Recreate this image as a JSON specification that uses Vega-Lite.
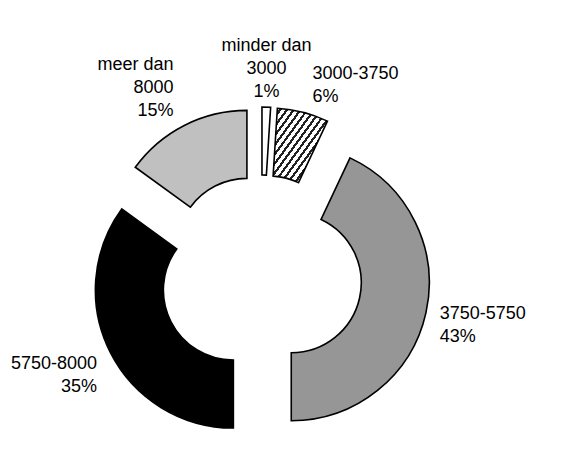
{
  "$schema": "https://vega.github.io/schema/vega-lite/v6.json",
  "autosize": "none",
  "width": 522,
  "height": 376,
  "padding": {"left": 0, "top": 88, "right": 61, "bottom": 0},
  "background": "white",
  "config": {"view": {"stroke": null}, "font": "Liberation Sans"},
  "data": {
    "values": [
      {"range": "minder dan 3000", "label": "minder dan\n3000\n1%", "pct": 1, "order": 1},
      {"range": "3000-3750", "label": "3000-3750\n6%", "pct": 6, "order": 2},
      {"range": "3750-5750", "label": "3750-5750\n43%", "pct": 43, "order": 3},
      {"range": "5750-8000", "label": "5750-8000\n35%", "pct": 35, "order": 4},
      {"range": "meer dan 8000", "label": "meer dan\n8000\n15%", "pct": 15, "order": 5}
    ]
  },
  "encoding": {
    "theta": {"field": "pct", "type": "quantitative", "stack": true},
    "order": {"field": "order", "type": "quantitative"}
  },
  "layer": [
    {
      "mark": {
        "type": "arc",
        "radius": 138,
        "radius2": 70,
        "stroke": "black",
        "strokeWidth": 1.6,
        "x": {"expr": "width/2 + 31*sin(scale('theta', (datum.pct_start + datum.pct_end)/2))"},
        "y": {"expr": "height/2 - 31*cos(scale('theta', (datum.pct_start + datum.pct_end)/2))"}
      },
      "encoding": {
        "fill": {
          "field": "range",
          "type": "nominal",
          "legend": null,
          "scale": {
            "domain": ["minder dan 3000", "3000-3750", "3750-5750", "5750-8000", "meer dan 8000"],
            "range": ["#ffffff", "#ffffff", "#969696", "#000000", "#c0c0c0"]
          },
          "condition": {
            "test": "datum.range === '3000-3750'",
            "value": {
              "gradient": "linear",
              "x1": 0, "y1": 0, "x2": 1, "y2": 1,
              "stops": [
                {"offset": 0, "color": "#222222"}, {"offset": 0.025, "color": "#222222"}, {"offset": 0.025, "color": "#ffffff"}, {"offset": 0.0625, "color": "#ffffff"},
                {"offset": 0.0625, "color": "#222222"}, {"offset": 0.0875, "color": "#222222"}, {"offset": 0.0875, "color": "#ffffff"}, {"offset": 0.125, "color": "#ffffff"},
                {"offset": 0.125, "color": "#222222"}, {"offset": 0.15, "color": "#222222"}, {"offset": 0.15, "color": "#ffffff"}, {"offset": 0.1875, "color": "#ffffff"},
                {"offset": 0.1875, "color": "#222222"}, {"offset": 0.2125, "color": "#222222"}, {"offset": 0.2125, "color": "#ffffff"}, {"offset": 0.25, "color": "#ffffff"},
                {"offset": 0.25, "color": "#222222"}, {"offset": 0.275, "color": "#222222"}, {"offset": 0.275, "color": "#ffffff"}, {"offset": 0.3125, "color": "#ffffff"},
                {"offset": 0.3125, "color": "#222222"}, {"offset": 0.3375, "color": "#222222"}, {"offset": 0.3375, "color": "#ffffff"}, {"offset": 0.375, "color": "#ffffff"},
                {"offset": 0.375, "color": "#222222"}, {"offset": 0.4, "color": "#222222"}, {"offset": 0.4, "color": "#ffffff"}, {"offset": 0.4375, "color": "#ffffff"},
                {"offset": 0.4375, "color": "#222222"}, {"offset": 0.4625, "color": "#222222"}, {"offset": 0.4625, "color": "#ffffff"}, {"offset": 0.5, "color": "#ffffff"},
                {"offset": 0.5, "color": "#222222"}, {"offset": 0.525, "color": "#222222"}, {"offset": 0.525, "color": "#ffffff"}, {"offset": 0.5625, "color": "#ffffff"},
                {"offset": 0.5625, "color": "#222222"}, {"offset": 0.5875, "color": "#222222"}, {"offset": 0.5875, "color": "#ffffff"}, {"offset": 0.625, "color": "#ffffff"},
                {"offset": 0.625, "color": "#222222"}, {"offset": 0.65, "color": "#222222"}, {"offset": 0.65, "color": "#ffffff"}, {"offset": 0.6875, "color": "#ffffff"},
                {"offset": 0.6875, "color": "#222222"}, {"offset": 0.7125, "color": "#222222"}, {"offset": 0.7125, "color": "#ffffff"}, {"offset": 0.75, "color": "#ffffff"},
                {"offset": 0.75, "color": "#222222"}, {"offset": 0.775, "color": "#222222"}, {"offset": 0.775, "color": "#ffffff"}, {"offset": 0.8125, "color": "#ffffff"},
                {"offset": 0.8125, "color": "#222222"}, {"offset": 0.8375, "color": "#222222"}, {"offset": 0.8375, "color": "#ffffff"}, {"offset": 0.875, "color": "#ffffff"},
                {"offset": 0.875, "color": "#222222"}, {"offset": 0.9, "color": "#222222"}, {"offset": 0.9, "color": "#ffffff"}, {"offset": 0.9375, "color": "#ffffff"},
                {"offset": 0.9375, "color": "#222222"}, {"offset": 0.9625, "color": "#222222"}, {"offset": 0.9625, "color": "#ffffff"}, {"offset": 1, "color": "#ffffff"}
              ]
            }
          }
        }
      }
    },
    {
      "mark": {
        "type": "text",
        "radius": 175,
        "fontSize": 18,
        "lineHeight": 23,
        "lineBreak": "\n",
        "color": "black",
        "align": {"expr": "sin(scale('theta', (datum.pct_start + datum.pct_end)/2)) > 0.15 ? 'left' : (sin(scale('theta', (datum.pct_start + datum.pct_end)/2)) < -0.15 ? 'right' : 'center')"},
        "baseline": {"expr": "cos(scale('theta', (datum.pct_start + datum.pct_end)/2)) > 0.3 ? 'bottom' : (cos(scale('theta', (datum.pct_start + datum.pct_end)/2)) < -0.3 ? 'top' : 'middle')"},
        "dx": {"expr": "sin(scale('theta', (datum.pct_start + datum.pct_end)/2)) > 0.15 ? 8 : (sin(scale('theta', (datum.pct_start + datum.pct_end)/2)) < -0.15 ? -8 : 0)"},
        "dy": {"expr": "cos(scale('theta', (datum.pct_start + datum.pct_end)/2)) > 0.3 ? -(length(split(datum.label, '\\n')) - 1) * 23 : 0"}
      },
      "encoding": {
        "text": {"field": "label", "type": "nominal"}
      }
    }
  ]
}
